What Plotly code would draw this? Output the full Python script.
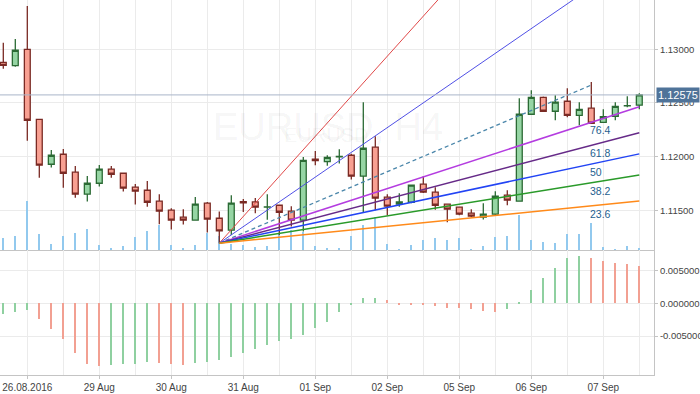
import plotly.graph_objects as go

# ---------------- data (EURUSD H4) ----------------
opens = [1.12879, 1.12847, 1.13000, 1.12348, 1.11929, 1.12022, 1.11855, 1.11650, 1.11752, 1.11883,
         1.11845, 1.11715, 1.11687, 1.11585, 1.11501, 1.11436, 1.11408, 1.11566, 1.11426, 1.11315,
         1.11581, 1.11578, 1.11529, 1.11547, 1.11492, 1.11408, 1.11976, 1.11953, 1.11998, 1.12013,
         1.11818, 1.12088, 1.11622, 1.11557, 1.11575, 1.11743, 1.11669, 1.11557, 1.11529, 1.11473,
         1.11436, 1.11464, 1.11641, 1.11585, 1.12395, 1.12553, 1.12423, 1.12516, 1.12385, 1.12451,
         1.12320, 1.12376, 1.12472, 1.12479]
highs = [1.13061, 1.13096, 1.13403, 1.12350, 1.12062, 1.12072, 1.11913, 1.11820, 1.11923, 1.11913,
         1.11848, 1.11746, 1.11774, 1.11650, 1.11520, 1.11510, 1.11625, 1.11578, 1.11488, 1.11641,
         1.11606, 1.11615, 1.11650, 1.11550, 1.11538, 1.11997, 1.12053, 1.12013, 1.12069, 1.12026,
         1.12507, 1.12190, 1.11650, 1.11659, 1.11740, 1.11818, 1.11715, 1.11560, 1.11535, 1.11510,
         1.11566, 1.11678, 1.11687, 1.12544, 1.12618, 1.12560, 1.12572, 1.12637, 1.12507, 1.12696,
         1.12441, 1.12507, 1.12562, 1.12590]
lows = [1.12819, 1.12838, 1.12149, 1.11804, 1.11898, 1.11711, 1.11618, 1.11581, 1.11721, 1.11804,
        1.11674, 1.11553, 1.11534, 1.11371, 1.11320, 1.11367, 1.11405, 1.11292, 1.11194, 1.11270,
        1.11485, 1.11473, 1.11411, 1.11271, 1.11348, 1.11302, 1.11920, 1.11916, 1.11935, 1.11786,
        1.11482, 1.11501, 1.11454, 1.11534, 1.11566, 1.11660, 1.11504, 1.11389, 1.11455, 1.11436,
        1.11414, 1.11454, 1.11547, 1.11580, 1.12390, 1.12420, 1.12339, 1.12367, 1.12292, 1.12305,
        1.12315, 1.12339, 1.12460, 1.12441]
closes = [1.12851, 1.12991, 1.12339, 1.11920, 1.12013, 1.11845, 1.11650, 1.11752, 1.11883, 1.11836,
          1.11706, 1.11678, 1.11575, 1.11492, 1.11408, 1.11408, 1.11557, 1.11417, 1.11308, 1.11566,
          1.11569, 1.11529, 1.11532, 1.11482, 1.11408, 1.11966, 1.11963, 1.11994, 1.12003, 1.11818,
          1.12078, 1.11613, 1.11538, 1.11578, 1.11734, 1.11669, 1.11547, 1.11510, 1.11464, 1.11445,
          1.11464, 1.11631, 1.11594, 1.12395, 1.12553, 1.12423, 1.12507, 1.12385, 1.12441, 1.12311,
          1.12372, 1.12469, 1.12475, 1.12575]
volumes = [1230, 1400, 4930, 1600, 600, 1400, 1700, 2100, 500, 200,
           400, 1300, 1900, 2500, 500, 200, 500, 1700, 1400, 600,
           500, 300, 400, 1600, 2000, 1800, 400, 200, 200, 1400,
           2500, 3300, 600, 100, 500, 1000, 1200, 1000, 1200, 100,
           400, 1300, 1400, 3500, 1000, 800, 700, 1600, 1600, 2700,
           300, 100, 400, 200]
osc = [-0.00163, -0.00133, -0.00102, -0.00235, -0.00388, -0.00551, -0.00750, -0.00929, -0.00949, -0.00934,
       -0.00932, -0.00918, -0.00888, -0.00903, -0.00929, -0.00934, -0.00905, -0.00900, -0.00867, -0.00811,
       -0.00750, -0.00699, -0.00628, -0.00577, -0.00546, -0.00490, -0.00383, -0.00291, -0.00133, -0.00030,
       0.00075, 0.00078, 0.00046, -0.00012, -0.00016, -0.00030, -0.00046, -0.00064, -0.00068, -0.00082,
       -0.00122, -0.00138, -0.00092, 0.00020, 0.00204, 0.00383, 0.00541, 0.00689, 0.00724, 0.00690,
       0.00648, 0.00617, 0.00592, 0.00571]

tick_idx = [2, 8, 14, 20, 26, 32, 38, 44, 50]
tick_text = ["26.08.2016", "29 Aug", "30 Aug", "31 Aug", "01 Sep", "02 Sep", "05 Sep", "06 Sep", "07 Sep"]
grid_idx = list(range(2, 54, 3))

price_ticks = [1.115, 1.120, 1.125, 1.130]
osc_ticks = [-0.005, 0.0, 0.005]
osc_tick_text = [f"{v:.6f}" for v in osc_ticks]

# Fibonacci fan: anchored at the low of bar 18 and a point near the high of bar 49
fan_start = 18
fan_end = 49
fan_low_price = 1.11194
fan_high_price = 1.12667
fan_levels = [261.8, 161.8, 100.0, 76.4, 61.8, 50.0, 38.2, 23.6]
fan_colors = ["#e04848", "#5050e6", "#4a86aa", "#b43ce0", "#662a88", "#2244f4", "#2a9a2a", "#ff8a1a"]
fan_labelled = [76.4, 61.8, 50.0, 38.2, 23.6]

# ---------------- figure ----------------
n = len(closes)
x = list(range(n))
fig = go.Figure()

fig.add_trace(go.Bar(x=x, y=volumes, marker=dict(color="#92c9ee", line=dict(width=0)),
                     width=0.13, xaxis="x", yaxis="y", showlegend=False, hoverinfo="skip"))

fig.add_trace(go.Candlestick(
    x=x, open=opens, high=highs, low=lows, close=closes, xaxis="x", yaxis="y3",
    increasing=dict(fillcolor="#96d5a4", line=dict(color="#2b6a34", width=1.3)),
    decreasing=dict(fillcolor="#f8a092", line=dict(color="#7a2a24", width=1.3)),
    whiskerwidth=0, showlegend=False))


def fan_val(level, i):
    return fan_low_price + level / 100.0 * (fan_high_price - fan_low_price) * (i - fan_start) / (fan_end - fan_start)


for lvl, col in zip(fan_levels, fan_colors):
    end = fan_end if lvl == 100.0 else n - 1
    xs = [fan_start, end]
    ys = [fan_val(lvl, i) for i in xs]
    if lvl == 100.0:
        ln = dict(color=col, width=1.3, dash="4px,3px")
    elif lvl > 100:
        ln = dict(color=col, width=1.0)
    else:
        ln = dict(color=col, width=1.5)
    fig.add_trace(go.Scatter(x=xs, y=ys, mode="lines", line=ln, xaxis="x", yaxis="y3",
                             showlegend=False, hoverinfo="skip"))

osc_colors = ["#8fd0a0"] + ["#8fd0a0" if osc[i] >= osc[i - 1] else "#f2a092" for i in range(1, n)]
fig.add_trace(go.Bar(x=x, y=osc, marker=dict(color=osc_colors, line=dict(width=0)), width=0.14,
                     xaxis="x2", yaxis="y2", showlegend=False, hoverinfo="skip"))

grid_c = "#ebebeb"
line_c = "#c4c4c4"

annotations = [
    dict(text="EURUSD, H4", xref="paper", yref="paper", x=0.5015, y=0.7227, showarrow=False,
         font=dict(size=38, color="rgba(0,0,0,0.055)", family="Liberation Sans")),
    dict(text="EURUSD", xref="paper", yref="paper", x=0.498, y=0.64, showarrow=False,
         font=dict(size=20, color="rgba(0,0,0,0.055)", family="Liberation Sans")),
    dict(text=f"{closes[-1]:.5f}", xref="paper", yref="y3", x=1, y=closes[-1], xanchor="left",
         yanchor="middle", xshift=2, showarrow=False, bgcolor="#4f7399", borderpad=1,
         font=dict(size=11, color="white", family="Liberation Sans")),
]
for lvl in fan_labelled:
    annotations.append(dict(text=f"{lvl:g}", xref="x", yref="y3", x=48.7, y=fan_val(lvl, 49.4),
                            xanchor="left", yanchor="middle", yshift=-9, showarrow=False,
                            font=dict(size=10.5, color="#1f5f8f", family="Liberation Sans")))

ytick_font = dict(size=9.5, color="#444444", family="Liberation Sans")

fig.update_layout(
    width=700, height=394,
    margin=dict(l=0, r=46, t=0, b=19),
    paper_bgcolor="white", plot_bgcolor="white",
    font=dict(family="Liberation Sans", size=10, color="#444444"),
    showlegend=False, bargap=0,
    xaxis=dict(domain=[0, 1], anchor="y", range=[-0.275, 54.225], showline=True, linecolor=line_c,
               linewidth=1, tickmode="array", tickvals=tick_idx, showticklabels=False, ticks="",
               showgrid=True, gridcolor=grid_c, zeroline=False, rangeslider=dict(visible=False),
               minor=dict(tickvals=grid_idx, showgrid=True, gridcolor=grid_c, ticks=""),
               fixedrange=True),
    xaxis2=dict(domain=[0, 1], anchor="y2", matches="x", range=[-0.275, 54.225], showline=True,
                linecolor=line_c, linewidth=1, tickmode="array", tickvals=tick_idx, ticktext=tick_text,
                ticks="outside", ticklen=3, tickcolor=line_c, showgrid=True, gridcolor=grid_c,
                zeroline=False, rangeslider=dict(visible=False),
                minor=dict(tickvals=grid_idx, showgrid=True, gridcolor=grid_c, ticks=""),
                tickfont=dict(size=10, color="#444444")),
    yaxis=dict(domain=[1 / 3, 1], anchor="x", range=[0, 25000], showgrid=False, showticklabels=False,
               ticks="", zeroline=False, showline=False),
    yaxis3=dict(overlaying="y", anchor="x", side="right", range=[1.111301, 1.134593], tickmode="array",
                tickvals=price_ticks, tickformat=".5f", ticks="outside", ticklen=3, tickcolor=line_c,
                showline=True, linecolor=line_c, showgrid=True, gridcolor=grid_c, zeroline=False,
                automargin=False, tickfont=ytick_font),
    yaxis2=dict(domain=[0, 1 / 3], anchor="x2", side="right", range=[-0.01093, 0.008125],
                tickmode="array", tickvals=osc_ticks, ticktext=osc_tick_text, ticks="outside", ticklen=3,
                tickcolor=line_c, showline=True, linecolor=line_c, showgrid=True, gridcolor=grid_c,
                zeroline=False, automargin=False, tickfont=ytick_font),
    annotations=annotations,
    shapes=[dict(type="line", xref="x domain", yref="y3", x0=0, x1=1, y0=closes[-1], y1=closes[-1],
                 line=dict(color="#a9b5c9", width=1))],
)

fig.write_html("out.html", config={"displayModeBar": False},
               post_script="document.body.style.margin='0';document.body.style.overflow='hidden';")
